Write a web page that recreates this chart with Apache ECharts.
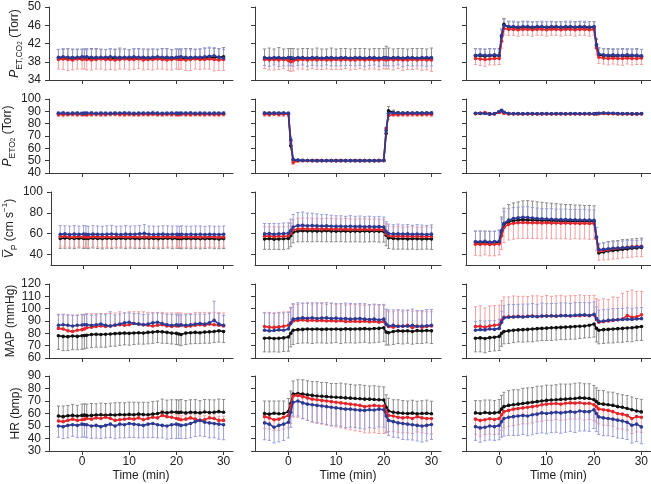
<!DOCTYPE html>
<html><head><meta charset="utf-8">
<script src="https://cdn.jsdelivr.net/npm/echarts@6/dist/echarts.min.js"></script>
<style>html,body{margin:0;padding:0;background:#fff}#c{width:651px;height:484px}</style>
</head><body><div id="c"></div><script>
// time points (min): -5..0, 0.5, 1..20, 20.5, 21..30
const T = [-5,-4,-3,-2,-1,0, 0.5, 1,2,3,4,5,6,7,8,9,10,11,12,13,14,15,16,17,18,19,20, 20.5, 21,22,23,24,25,26,27,28,29,30];
const xTicks = [0,10,20,30];

// ---- Row 1: PET,CO2 (Torr) ----  (e = signed error bar: + up, - down)
const co2_A_k  = [38.8,38.7,38.8,38.9,38.7,38.8, 38.8, 38.7,38.8,38.9,38.8,38.7,38.8,38.8,38.9,38.8,38.7,38.8,38.8,38.9,38.8,38.8,38.7,38.8,38.9,38.8,38.8, 38.8, 38.7,38.8,38.9,38.8,38.8,38.8,38.9,38.9,39.0,39.1];
const co2_A_ke = [1.9,2.0,2.1,1.9,2.0,1.9, 2.0, 1.9,2.1,2.0,1.9,2.0,2.0,1.9,2.1,2.0,1.9,2.0,2.1,1.9,2.0,2.0,1.9,2.1,2.0,1.9,2.0, 2.0, 1.9,2.1,2.0,1.9,2.0,2.2,2.1,2.0,1.9,2.0];
const co2_A_r  = [38.5,38.6,38.5,38.4,38.6,38.5, 38.6, 38.5,38.4,38.5,38.6,38.5,38.5,38.4,38.5,38.6,38.5,38.5,38.6,38.4,38.5,38.5,38.6,38.5,38.4,38.5,38.6, 38.5, 38.5,38.4,38.5,38.6,38.5,38.5,38.6,38.5,38.4,38.5];
const co2_A_re = [-2.1,-2.3,-2.4,-2.2,-2.2,-2.1, -2.2, -2.3,-2.2,-2.1,-2.2,-2.3,-2.2,-2.2,-2.1,-2.2,-2.3,-2.2,-2.1,-2.2,-2.2,-2.3,-2.2,-2.1,-2.2,-2.3,-2.2, -2.2, -2.1,-2.3,-2.4,-2.2,-2.2,-2.1,-2.2,-2.5,-2.3,-2.4];
const co2_A_b  = [39.0,39.1,39.0,38.9,39.0,39.1, 39.0, 39.1,39.0,38.9,39.0,39.0,39.1,39.0,38.9,39.0,39.0,39.1,39.0,39.0,38.9,39.0,39.1,39.0,39.0,38.9,39.0, 39.0, 39.1,39.0,38.9,39.0,39.0,39.1,39.2,39.3,39.0,38.8];
const co2_A_be = [1.7,1.8,1.8,1.7,1.8,1.7, 1.8, 1.8,1.7,1.8,1.8,1.7,1.8,1.8,1.7,1.8,1.7,1.8,1.8,1.7,1.8,1.8,1.7,1.8,1.8,1.7,1.8, 1.7, 1.8,1.8,1.7,1.8,1.8,1.9,2.0,1.8,1.8,1.9];

const co2_B_k  = [38.6,38.7,38.6,38.7,38.6,38.6, 38.7, 38.6,38.6,38.7,38.6,38.6,38.7,38.6,38.6,38.7,38.6,38.6,38.7,38.6,38.6,38.7,38.6,38.6,38.7,38.6,38.6, 38.8, 38.7,38.6,38.6,38.7,38.6,38.6,38.7,38.6,38.6,38.7];
const co2_B_ke = [2.2,2.3,2.2,2.4,2.2,2.3, 2.2, 2.3,2.2,2.2,2.3,2.2,2.3,2.2,2.2,2.3,2.2,2.3,2.2,2.2,2.3,2.2,2.3,2.2,2.2,2.3,2.3, 2.6, 2.3,2.2,2.3,2.2,2.2,2.3,2.2,2.3,2.2,2.3];
const co2_B_r  = [38.5,38.4,38.5,38.4,38.5,38.3, 38.0, 38.2,38.4,38.5,38.4,38.5,38.4,38.5,38.4,38.4,38.5,38.4,38.5,38.4,38.4,38.5,38.4,38.5,38.4,38.4,38.5, 38.4, 38.5,38.4,38.5,38.4,38.4,38.5,38.4,38.5,38.4,38.4];
const co2_B_re = [-2.0,-2.2,-2.3,-2.1,-2.0,-2.2, -2.1, -2.2,-2.0,-2.1,-2.2,-2.0,-2.1,-2.2,-2.0,-2.1,-2.2,-2.1,-2.0,-2.2,-2.1,-2.0,-2.2,-2.1,-2.0,-2.2,-2.1, -2.0, -2.1,-2.2,-2.0,-2.3,-2.1,-2.2,-2.0,-2.4,-2.2,-2.5];
const co2_B_b  = [38.9,38.8,38.9,38.9,38.8,38.9, 38.9, 38.8,38.9,38.9,38.8,38.9,38.9,38.8,38.9,38.9,38.8,38.9,38.9,38.8,38.9,38.9,38.8,38.9,38.9,38.8,38.9, 38.9, 38.8,38.9,38.9,38.8,38.9,38.9,38.8,38.9,38.9,38.9];
const co2_B_be = [-1.7,-1.8,-1.6,-1.9,-1.7,-1.8, -1.7, -1.8,-1.7,-1.6,-1.8,-1.7,-1.8,-1.7,-1.6,-1.8,-1.7,-1.8,-1.7,-1.6,-1.8,-1.7,-1.8,-1.7,-1.6,-1.8,-1.7, -1.8, -1.7,-1.8,-1.6,-1.9,-1.7,-1.8,-1.7,-1.8,-1.9,-1.8];

const co2_C_k  = [39.3,39.3,39.2,39.3,39.3,39.3, 43.5, 46.2,45.5,45.5,45.4,45.5,45.5,45.4,45.5,45.5,45.5,45.4,45.5,45.5,45.4,45.5,45.5,45.5,45.4,45.5,45.5, 41.5, 39.5,39.3,39.3,39.2,39.3,39.3,39.2,39.3,39.3,39.2];
const co2_C_ke = [1.6,1.5,1.6,1.6,1.5,1.6, 1.5, 1.3,1.3,1.2,1.3,1.3,1.2,1.3,1.3,1.2,1.3,1.3,1.2,1.3,1.3,1.2,1.3,1.3,1.2,1.3,1.3, 1.4, 1.5,1.5,1.6,1.5,1.5,1.6,1.5,1.5,1.6,1.5];
const co2_C_r  = [38.7,38.6,38.5,38.6,38.7,38.7, 42.5, 45.3,45.1,45.1,45.0,45.1,45.1,45.0,45.1,45.1,45.0,45.1,45.1,45.0,45.1,45.1,45.0,45.1,45.1,45.0,45.1, 41.0, 39.0,38.8,38.7,38.8,38.7,38.7,38.8,38.7,38.7,38.8];
const co2_C_re = [-1.3,-1.4,-1.5,-1.3,-1.4,-1.3, -1.5, -1.4,-1.3,-1.3,-1.4,-1.3,-1.3,-1.4,-1.3,-1.3,-1.4,-1.3,-1.3,-1.4,-1.3,-1.3,-1.4,-1.3,-1.3,-1.4,-1.3, -1.5, -1.4,-1.3,-1.4,-1.3,-1.4,-1.5,-1.3,-1.4,-1.3,-1.4];
const co2_C_b  = [39.4,39.5,39.4,39.4,39.5,39.4, 43.8, 46.0,45.7,45.7,45.6,45.7,45.7,45.6,45.7,45.7,45.6,45.7,45.7,45.6,45.7,45.7,45.6,45.7,45.7,45.6,45.7, 41.8, 39.7,39.5,39.4,39.5,39.4,39.4,39.5,39.4,39.4,39.3];
const co2_C_be = [1.4,1.4,1.3,1.4,1.4,1.3, 1.4, 1.2,1.2,1.2,1.1,1.2,1.2,1.2,1.1,1.2,1.2,1.2,1.1,1.2,1.2,1.2,1.1,1.2,1.2,1.2,1.1, 1.3, 1.4,1.4,1.3,1.4,1.4,1.3,1.4,1.4,1.3,1.4];

// ---- Row 2: PET,O2 (Torr) ----
const o2_A_k  = [88.0,88.1,87.9,88.0,88.2,88.0, 87.9, 88.1,88.0,88.0,88.1,87.9,88.0,88.2,88.0,88.1,88.0,87.9,88.0,88.1,88.0,88.2,88.0,88.1,88.0,87.9,88.0, 88.1, 88.0,88.0,88.1,87.9,88.0,88.1,88.0,88.0,88.1,88.0];
const o2_A_ke = [1.0,1.1,0.9,1.0,1.2,1.0, 1.0, 1.1,1.0,0.9,1.0,1.1,1.0,1.0,0.9,1.1,1.0,1.0,1.1,0.9,1.0,1.1,1.0,1.0,0.9,1.0,1.1, 1.0, 1.0,0.9,1.1,1.0,1.0,1.1,0.9,1.0,1.0,1.1];
const o2_A_r  = [87.4,87.2,87.5,87.6,87.4,87.5, 87.6, 87.3,87.5,87.6,87.4,87.5,87.6,87.7,87.5,87.4,87.6,87.5,87.4,87.6,87.5,87.7,87.5,87.4,87.6,87.5,87.4, 87.5, 87.6,87.5,87.4,87.6,87.5,87.4,87.6,87.5,87.4,87.6];
const o2_A_re = [-1.6,-1.8,-1.5,-1.4,-1.6,-1.5, -1.4, -1.6,-1.5,-1.4,-1.6,-1.5,-1.4,-1.3,-1.5,-1.6,-1.4,-1.5,-1.6,-1.4,-1.5,-1.3,-1.5,-1.6,-1.4,-1.5,-1.6, -1.5, -1.4,-1.5,-1.6,-1.4,-1.5,-1.6,-1.4,-1.5,-1.6,-1.4];
const o2_A_b  = [88.4,88.6,88.3,88.5,88.4,88.3, 88.5, 88.4,88.6,88.3,88.5,88.4,88.3,88.5,88.4,88.6,88.5,88.3,88.4,88.5,88.4,88.7,88.5,88.3,88.4,88.5,88.4, 88.3, 88.5,88.4,88.6,88.3,88.5,88.4,88.3,88.5,88.4,88.5];
const o2_A_be = [1.3,1.4,1.2,1.3,1.3,1.2, 1.3, 1.4,1.2,1.3,1.3,1.2,1.4,1.3,1.2,1.3,1.4,1.3,1.2,1.3,1.3,1.5,1.3,1.2,1.3,1.4,1.3, 1.2, 1.3,1.4,1.2,1.3,1.3,1.2,1.4,1.3,1.2,1.3];

const o2_B_k  = [88.2,88.4,88.1,88.3,88.2,88.0, 62.0, 50.5,50.2,50.1,50.1,50.0,50.0,50.0,50.1,50.0,50.0,50.0,50.0,50.1,50.0,50.0,50.0,50.0,50.0,50.0,50.2, 72.0, 90.5,89.0,88.6,88.5,88.4,88.5,88.4,88.5,88.4,88.5];
const o2_B_ke = [1.0,1.1,1.0,1.2,1.0,1.0, 2.0, 1.0,0.5,0.4,0.4,0.4,0.4,0.4,0.4,0.4,0.4,0.4,0.4,0.4,0.4,0.4,0.4,0.4,0.4,0.4,0.5, 2.0, 3.5,2.0,1.2,1.1,1.0,1.1,1.0,1.1,1.0,1.1];
const o2_B_r  = [87.6,87.4,87.8,87.5,87.6,87.7, 66.0, 48.5,49.8,50.0,49.9,50.0,50.0,50.0,49.9,50.0,50.0,50.0,49.9,50.0,50.0,50.0,50.0,49.9,50.0,50.0,50.0, 76.0, 86.5,87.5,87.3,87.5,87.4,87.6,87.5,87.4,87.6,87.5];
const o2_B_re = [-1.5,-1.6,-1.4,-1.5,-1.6,-1.5, -3.0, -1.5,-0.6,-0.4,-0.4,-0.4,-0.4,-0.4,-0.4,-0.4,-0.4,-0.4,-0.4,-0.4,-0.4,-0.4,-0.4,-0.4,-0.4,-0.4,-0.4, -4.0, -3.0,-1.8,-1.6,-1.5,-1.5,-1.6,-1.5,-1.4,-1.5,-1.6];
const o2_B_b  = [88.6,88.3,88.7,88.5,88.6,88.4, 67.0, 51.0,50.4,50.2,50.1,50.1,50.0,50.1,50.0,50.1,50.0,50.1,50.0,50.0,50.1,50.0,50.1,50.0,50.0,50.1,50.1, 74.5, 88.5,88.8,88.6,88.5,88.7,88.5,88.6,88.5,88.7,88.6];
const o2_B_be = [1.0,1.2,1.0,1.1,1.0,1.1, 2.0, 0.8,0.5,0.4,0.4,0.4,0.4,0.4,0.4,0.4,0.4,0.4,0.4,0.4,0.4,0.4,0.4,0.4,0.4,0.4,0.4, 2.5, 1.5,1.2,1.0,1.1,1.0,1.0,1.1,1.0,1.1,1.0];

const o2_C_k  = [88.3,88.2,88.4,88.0,88.3,89.5, 90.5, 89.0,88.2,88.0,88.1,88.0,88.0,88.1,88.0,88.0,88.1,88.0,88.0,88.1,88.0,88.0,88.1,88.0,88.0,88.1,88.0, 88.0, 88.2,88.4,88.3,88.2,88.1,88.0,88.1,87.9,88.0,88.1];
const o2_C_ke = [0.7,0.6,0.7,0.6,0.7,0.8, 0.9, 0.7,0.5,0.5,0.5,0.5,0.5,0.5,0.5,0.5,0.5,0.5,0.5,0.5,0.5,0.5,0.5,0.5,0.5,0.5,0.5, 0.5, 0.6,0.6,0.7,0.6,0.6,0.7,0.6,0.6,0.7,0.6];
const o2_C_r  = [88.0,88.4,89.0,87.6,87.8,89.0, 90.0, 88.5,87.9,87.8,87.9,87.8,87.9,87.8,87.9,87.8,87.9,87.8,87.9,87.8,87.9,87.8,87.9,87.8,87.9,87.8,87.9, 87.8, 88.0,88.2,88.1,88.0,87.9,87.8,87.9,87.8,87.7,87.8];
const o2_C_re = [-0.7,-0.8,-0.9,-0.7,-0.7,-0.8, -0.9, -0.7,-0.5,-0.5,-0.5,-0.5,-0.5,-0.5,-0.5,-0.5,-0.5,-0.5,-0.5,-0.5,-0.5,-0.5,-0.5,-0.5,-0.5,-0.5,-0.5, -0.5, -0.6,-0.7,-0.6,-0.6,-0.7,-0.6,-0.6,-0.7,-0.6,-0.6];
const o2_C_b  = [88.5,88.4,88.3,87.8,88.0,89.8, 90.8, 89.2,88.3,88.2,88.2,88.1,88.2,88.2,88.1,88.2,88.2,88.1,88.2,88.2,88.1,88.2,88.2,88.1,88.2,88.2,88.1, 88.2, 88.5,88.6,88.5,88.4,88.3,88.2,88.2,88.1,88.0,88.2];
const o2_C_be = [0.6,0.7,0.6,0.6,0.7,0.8, 0.9, 0.7,0.5,0.5,0.5,0.5,0.5,0.5,0.5,0.5,0.5,0.5,0.5,0.5,0.5,0.5,0.5,0.5,0.5,0.5,0.5, 0.5, 0.6,0.7,0.6,0.6,0.7,0.6,0.6,0.7,0.6,0.6];

// ---- Row 3: mean velocity (cm/s) ----
const vp_A_k  = [55.5,55.8,55.6,55.4,55.7,55.5, 55.6, 55.4,55.7,55.5,55.3,55.6,55.4,55.5,55.7,55.4,55.6,55.5,55.3,55.6,55.4,55.5,55.2,55.4,55.6,55.3,55.5, 55.4, 55.2,55.5,55.3,55.4,55.1,55.3,55.5,55.2,55.0,55.3];
const vp_A_ke = [-9.6,-9.8,-9.5,-9.7,-9.4,-9.6, -9.5, -9.7,-9.4,-9.6,-9.8,-9.5,-9.6,-9.3,-9.5,-9.7,-9.4,-9.6,-9.5,-9.8,-9.4,-9.6,-9.7,-9.5,-9.3,-9.6,-9.5, -9.4, -9.6,-9.5,-9.7,-9.4,-9.6,-9.5,-9.3,-9.6,-9.4,-9.5];
const vp_A_r  = [57.2,57.5,57.0,56.8,57.3,57.1, 57.0, 56.9,57.2,57.0,56.8,57.1,56.9,57.0,57.3,56.8,57.0,57.1,56.9,57.0,56.8,57.1,56.9,57.0,57.2,56.9,57.0, 56.8, 56.9,57.1,56.8,57.0,56.7,56.9,57.1,56.8,56.7,56.9];
const vp_A_re = [-9.8,-10.2,-9.9,-9.6,-10.0,-9.8, -9.9, -10.1,-9.8,-9.7,-10.0,-9.9,-9.8,-10.1,-9.9,-9.6,-9.8,-10.0,-9.9,-9.7,-9.8,-10.0,-9.9,-9.8,-10.1,-9.7,-9.9, -9.8, -9.9,-10.0,-9.7,-9.8,-9.6,-9.9,-10.0,-9.7,-9.5,-9.8];
const vp_A_b  = [59.5,59.8,59.3,59.6,59.4,59.7, 59.5, 59.3,59.6,59.4,59.2,59.5,59.7,59.4,59.3,59.6,59.4,59.5,59.8,60.3,59.5,59.3,59.4,59.6,59.3,59.5,59.4, 59.2, 59.5,59.3,59.4,59.2,59.5,59.3,59.4,59.2,59.3,59.4];
const vp_A_be = [8.3,7.8,8.0,8.2,7.9,8.1, 8.0, 7.8,8.2,8.0,7.9,8.1,8.3,7.8,8.0,8.2,7.9,8.1,8.0,8.6,7.9,8.0,7.8,8.1,8.2,7.9,8.0, 7.8, 8.1,8.0,7.9,8.2,8.0,7.8,8.1,8.0,7.9,8.0];

const vp_B_k  = [55.0,55.3,54.8,55.0,55.2,55.5, 58.0, 61.5,62.5,62.8,62.6,62.7,62.5,62.6,62.8,62.5,62.4,62.6,62.5,62.3,62.5,62.4,62.6,62.3,62.5,62.4,62.2, 58.5, 56.0,55.5,55.2,55.4,55.0,55.3,55.1,54.9,55.2,55.0];
const vp_B_ke = [-10.0,-10.3,-9.8,-10.1,-10.2,-10.0, -10.5, -10.2,-10.3,-10.5,-10.2,-10.4,-10.1,-10.3,-10.5,-10.2,-10.0,-10.3,-10.4,-10.1,-10.2,-10.3,-10.5,-10.1,-10.2,-10.4,-10.2, -10.0, -10.1,-10.3,-10.0,-10.2,-9.9,-10.1,-10.3,-9.8,-10.0,-10.1];
const vp_B_r  = [57.5,57.8,57.2,57.6,57.4,58.0, 60.5, 63.5,64.5,64.8,64.6,64.5,64.7,64.4,64.6,64.3,64.5,64.2,64.4,64.1,64.3,64.0,64.2,64.0,63.9,64.1,63.8, 60.0, 58.0,57.6,57.8,57.4,57.6,57.3,57.5,57.2,57.4,57.3];
const vp_B_re = [9.2,8.8,9.5,9.0,9.3,9.1, 9.5, 10.0,10.4,10.2,10.5,10.1,10.3,10.0,10.2,10.4,9.9,10.1,10.3,10.0,9.8,10.2,10.0,9.9,10.1,9.8,10.0, 9.5, 9.2,9.0,9.3,8.9,9.1,9.4,8.8,9.0,9.2,8.9];
const vp_B_b  = [59.8,60.2,59.5,59.9,60.1,60.5, 63.0, 66.5,67.8,68.0,67.6,67.8,67.5,67.3,67.5,67.2,67.0,67.2,66.9,67.1,66.8,67.0,66.7,66.9,66.6,66.8,66.5, 62.0, 60.2,59.8,60.0,59.6,59.8,59.4,59.7,59.5,59.3,59.6];
const vp_B_be = [10.0,9.6,10.3,9.8,10.1,9.9, 11.0, 12.0,12.6,12.8,12.2,11.8,11.5,11.0,10.8,10.5,10.2,10.0,9.8,10.2,9.9,10.0,9.7,9.9,9.6,9.8,9.5, 9.5, 9.0,8.8,9.2,8.9,9.1,8.7,9.0,8.8,8.6,8.9];

const vp_C_k  = [51.5,51.3,51.6,51.2,51.4,51.8, 62.0, 69.0,71.5,72.5,73.0,73.5,73.2,73.0,72.8,72.6,72.5,72.4,72.3,72.2,72.0,72.1,71.9,72.0,71.8,71.9,71.7, 56.0, 41.5,42.5,43.5,44.0,44.5,45.0,45.5,46.0,46.3,46.8];
const vp_C_ke = [11.0,11.3,10.8,11.2,11.0,11.5, 14.0, 15.5,16.5,17.0,17.5,18.0,18.5,18.2,17.8,17.5,17.0,16.8,16.5,16.2,16.0,15.8,15.6,15.5,15.3,15.2,15.0, 10.0, 8.5,8.8,9.0,9.2,9.0,9.3,9.1,9.0,9.2,9.0];
const vp_C_r  = [50.0,49.8,50.2,49.6,50.0,50.3, 58.0, 66.0,69.0,70.0,70.5,70.8,70.6,70.4,70.5,70.3,70.4,70.2,70.3,70.1,70.2,70.0,70.1,69.9,70.0,69.8,69.9, 56.0, 43.5,44.0,44.5,45.5,46.0,46.5,47.0,47.5,47.8,48.0];
const vp_C_re = [-10.7,-11.0,-10.5,-10.8,-11.2,-10.6, -13.0, -14.5,-15.0,-15.2,-15.0,-15.3,-15.1,-14.9,-15.0,-15.2,-14.8,-15.0,-15.1,-14.9,-15.0,-15.2,-14.8,-15.0,-14.9,-15.1,-15.0, -12.0, -9.0,-9.2,-9.5,-9.8,-10.0,-9.7,-9.9,-10.0,-9.8,-10.0];
const vp_C_b  = [52.5,52.3,52.7,52.1,52.4,52.8, 63.0, 70.0,73.0,74.5,75.2,75.8,75.5,75.0,74.6,74.3,74.0,73.9,73.7,73.6,73.5,73.4,73.3,73.2,73.2,73.0,72.8, 57.0, 44.8,45.0,45.5,46.0,46.3,46.5,46.8,47.0,47.2,47.5];
const vp_C_be = [10.0,10.3,9.8,10.2,10.0,10.5, 11.0, 11.5,11.0,10.5,10.2,10.0,10.3,10.1,10.0,9.8,10.0,10.2,9.9,10.0,10.1,9.8,10.0,9.9,10.1,9.8,10.0, 9.0, 6.0,6.2,6.5,6.3,6.5,6.4,6.6,6.5,6.4,6.5];

// ---- Row 4: MAP (mmHg) ----
const map_A_k  = [78.0,77.5,77.3,77.8,77.5,78.0, 78.2, 78.5,79.0,79.2,79.0,79.3,79.5,79.8,80.0,80.2,80.0,80.3,80.5,80.2,80.8,81.0,81.5,81.2,80.8,80.2,80.0, 79.5, 79.0,80.2,80.5,80.8,80.5,81.0,81.2,81.5,82.0,81.5];
const map_A_ke = [-11.0,-11.5,-11.2,-11.0,-10.8,-11.0, -10.8, -10.5,-10.6,-10.4,-10.2,-10.5,-10.0,-10.2,-9.8,-9.5,-9.6,-9.4,-9.2,-9.0,-9.3,-9.1,-9.0,-9.2,-9.0,-8.8,-9.0, -8.9, -9.0,-9.2,-9.0,-9.1,-8.8,-9.0,-9.2,-9.0,-9.1,-9.0];
const map_A_r  = [84.0,83.5,82.0,81.5,82.5,83.0, 83.5, 84.5,85.0,85.5,86.0,85.5,86.0,86.5,87.0,86.5,87.0,88.0,87.5,87.0,86.5,86.0,86.5,87.0,86.0,85.5,86.0, 86.0, 86.5,85.5,86.0,86.5,87.0,86.5,87.5,87.0,86.5,86.0];
const map_A_re = [11.5,12.0,13.0,13.0,12.5,12.0, 12.0, 11.5,11.0,10.5,10.0,10.5,10.0,10.0,10.5,10.0,10.5,9.5,10.0,10.5,10.5,11.0,10.5,10.0,10.5,11.0,10.5, 10.5, 10.0,10.5,10.0,10.5,10.0,10.5,9.5,10.0,10.5,10.5];
const map_A_b  = [86.5,87.0,86.5,86.0,86.5,86.8, 87.0, 87.0,86.5,87.0,87.5,86.5,86.0,86.8,87.5,88.5,89.0,88.0,87.5,87.0,87.5,88.5,89.0,88.0,87.0,86.5,87.0, 86.5, 87.0,86.5,87.0,87.5,88.0,87.5,88.5,90.5,87.5,86.5];
const map_A_be = [8.5,8.0,8.5,8.8,8.0,8.5, 8.0, 8.5,8.2,8.0,8.3,8.5,11.5,8.0,8.2,8.0,7.5,8.0,8.5,8.2,8.0,7.8,7.5,8.0,8.5,9.0,8.5, 8.2, 8.0,8.5,8.2,8.0,7.8,8.0,7.5,15.5,8.5,8.0];

const map_B_k  = [76.0,76.2,75.8,76.0,76.3,77.0, 80.0, 82.5,83.0,83.2,83.5,83.3,83.5,83.2,83.4,83.3,83.5,83.2,83.6,83.4,83.5,83.6,83.8,83.5,83.9,84.0,84.5, 81.0, 80.5,81.5,82.0,81.8,82.0,81.5,82.2,82.0,82.3,82.0];
const map_B_ke = [-11.0,-11.3,-10.8,-11.2,-11.0,-11.5, -11.0, -11.5,-11.2,-11.0,-11.3,-11.5,-11.2,-11.0,-11.4,-11.2,-11.0,-11.5,-11.3,-11.1,-11.4,-11.2,-11.0,-11.3,-11.5,-11.2,-11.0, -10.5, -10.0,-10.5,-10.2,-10.4,-10.0,-10.3,-10.5,-10.2,-10.0,-10.3];
const map_B_r  = [85.5,85.0,84.8,85.2,85.8,86.5, 88.5, 90.0,90.5,90.8,90.3,90.6,90.2,90.5,90.0,90.3,89.8,90.2,89.5,89.8,89.6,89.5,89.8,89.3,89.6,89.0,89.5, 87.0, 85.5,85.0,86.0,85.5,86.5,84.5,86.0,85.0,85.5,86.0];
const map_B_re = [11.5,12.0,11.8,11.2,11.5,11.0, 12.0, 13.5,13.0,13.5,14.0,13.2,13.8,14.2,13.5,14.0,13.6,14.0,13.5,13.8,14.2,13.5,13.0,13.8,13.5,14.0,13.0, 12.5, 12.0,12.5,13.0,12.0,12.5,13.5,12.0,12.5,12.0,11.5];
const map_B_b  = [82.5,82.0,82.3,82.8,82.5,83.5, 88.0, 91.5,92.0,92.5,92.2,92.6,92.0,92.4,92.5,92.0,92.3,91.8,92.0,91.5,91.8,92.0,91.5,91.2,91.5,90.8,91.5, 87.5, 86.0,86.5,85.5,86.0,85.8,86.5,85.5,86.0,86.2,86.5];
const map_B_be = [14.0,14.5,13.8,14.2,14.0,13.5, 13.0, 12.5,12.8,12.0,12.5,12.2,12.8,12.0,12.3,12.5,12.0,12.2,12.5,12.8,12.0,12.3,12.5,12.0,12.2,12.5,12.0, 12.0, 13.0,12.5,13.5,13.0,12.8,13.2,13.0,12.5,13.0,12.8];

const map_C_k  = [76.0,76.3,75.8,76.5,76.8,77.5, 80.0, 81.5,82.0,82.5,82.8,83.0,83.2,83.5,83.8,84.0,84.2,84.5,84.6,84.8,85.0,85.2,85.5,85.8,86.0,86.5,87.5, 84.0, 82.5,83.0,83.2,83.5,83.8,84.0,84.3,84.5,85.0,85.5];
const map_C_ke = [-11.0,-11.3,-11.5,-11.2,-11.0,-11.4, -10.5, -10.0,-10.2,-10.0,-9.8,-10.1,-10.0,-10.3,-10.0,-9.8,-10.0,-10.2,-10.0,-9.9,-10.1,-10.0,-10.2,-10.0,-9.8,-10.0,-10.5, -11.0, -11.0,-11.2,-11.0,-11.3,-11.0,-11.2,-11.0,-11.3,-11.0,-11.2];
const map_C_r  = [85.5,85.8,85.0,86.0,86.5,87.0, 90.5, 93.0,93.5,93.5,93.8,93.5,93.8,94.0,93.6,93.8,94.2,94.0,93.8,94.5,94.2,94.0,94.5,94.3,94.6,94.2,94.8, 91.0, 89.0,89.5,90.0,90.5,91.0,91.5,94.5,93.0,93.5,95.0];
const map_C_re = [16.0,16.5,15.5,16.2,16.0,15.8, 16.0, 16.5,16.0,16.8,16.2,16.5,16.0,16.4,16.8,16.2,16.5,16.0,16.6,16.3,16.0,16.5,16.2,16.8,16.0,16.4,16.0, 17.0, 18.0,18.5,17.5,19.0,18.0,21.0,19.5,22.0,20.5,19.0];
const map_C_b  = [82.5,83.0,82.8,83.5,83.2,84.0, 89.0, 92.5,93.0,93.2,93.5,93.3,93.6,93.8,93.5,94.0,93.8,94.2,94.0,94.3,94.5,94.2,94.6,94.8,95.0,94.5,95.5, 92.0, 89.7,90.0,90.5,90.8,91.0,91.2,91.5,91.3,91.6,91.9];
const map_C_be = [7.0,7.5,7.2,6.8,7.0,7.5, 9.0, 10.0,10.5,10.2,10.0,10.4,10.1,10.3,10.0,10.5,10.2,10.0,10.3,10.5,10.1,10.0,10.4,10.2,10.0,10.3,10.0, 9.5, 9.0,9.2,9.0,9.3,9.1,9.0,9.2,9.0,9.1,9.0];

// ---- Row 5: HR (bpm) ----
const hr_A_k  = [58.0,57.5,58.2,58.5,58.0,58.5, 58.7, 58.3,58.5,58.8,59.0,58.5,59.0,58.8,59.2,59.0,59.3,59.0,59.5,59.2,59.0,59.5,60.0,61.0,60.5,61.2,61.0, 60.8, 61.0,60.5,61.0,60.8,60.5,61.2,60.8,61.0,61.5,61.0];
const hr_A_ke = [8.0,8.5,8.2,8.8,8.5,9.0, 9.0, 9.2,9.5,9.0,9.3,9.5,9.2,9.8,9.5,9.6,9.8,10.0,9.5,9.8,10.0,10.2,10.0,10.5,10.2,9.8,10.0, 10.0, 10.2,9.8,10.0,10.3,9.8,10.0,10.2,9.9,10.0,10.2];
const hr_A_r  = [54.0,53.5,54.5,55.5,54.5,55.0, 55.3, 56.0,55.5,56.5,56.0,57.0,56.0,54.5,55.0,55.5,56.0,55.5,56.5,55.0,56.0,57.0,56.5,58.5,57.5,57.0,56.0, 55.5, 55.0,55.5,56.5,55.5,54.5,55.0,56.5,56.0,54.5,54.5];
const hr_A_re = [3.5,3.0,3.8,3.2,3.5,3.0, 3.4, 3.5,3.2,3.0,3.6,3.3,3.5,3.8,3.2,3.5,3.0,3.4,3.6,3.2,3.5,3.0,3.3,3.8,3.5,3.2,3.4, 3.5, 3.2,3.6,3.0,3.4,3.5,3.2,3.0,3.5,3.3,3.4];
const hr_A_b  = [50.0,49.5,50.5,51.0,50.5,51.5, 51.2, 51.0,50.0,50.5,49.5,50.5,51.5,50.0,51.5,51.0,52.0,51.5,51.0,50.5,51.5,52.0,51.0,50.5,50.0,51.0,51.5, 51.0, 50.5,51.0,52.0,53.5,54.5,53.0,52.5,52.0,51.5,51.0];
const hr_A_be = [-9.0,-9.5,-10.0,-9.2,-9.8,-10.5, -10.0, -10.5,-9.8,-10.2,-9.5,-10.0,-10.8,-10.2,-11.0,-10.5,-11.2,-10.8,-10.5,-10.0,-10.8,-11.2,-10.5,-10.0,-10.5,-11.0,-11.5, -11.0, -10.5,-11.0,-11.5,-12.0,-12.5,-11.5,-12.0,-11.5,-12.0,-12.0];

const hr_B_k  = [60.0,59.5,60.2,59.8,60.0,61.5, 68.0, 75.5,76.0,75.5,75.0,74.5,74.0,73.8,73.5,73.2,73.0,72.8,72.5,72.3,72.0,71.8,71.5,71.5,71.2,71.0,70.8, 65.0, 62.0,61.0,60.5,60.2,60.0,60.3,59.8,60.0,60.2,59.8];
const hr_B_ke = [10.0,10.5,9.8,10.2,10.0,10.5, 10.0, 10.5,11.0,11.5,11.2,11.0,11.5,11.0,11.2,10.8,11.0,11.5,11.2,11.0,10.8,11.2,11.0,10.5,11.0,10.8,10.5, 10.0, 10.2,10.0,10.5,10.2,10.0,10.3,10.0,10.2,10.5,10.0];
const hr_B_r  = [57.5,56.5,55.0,55.5,57.0,58.5, 66.0, 74.0,74.5,73.5,72.5,71.5,71.0,70.5,70.0,69.5,69.0,68.5,68.0,67.5,67.0,66.5,65.5,66.0,66.5,66.0,66.0, 61.5, 58.5,58.0,57.0,56.5,57.0,56.0,57.5,56.5,56.0,56.0];
const hr_B_re = [-9.5,-9.0,-8.5,-9.0,-9.5,-10.0, -14.0, -17.0,-17.5,-17.8,-18.0,-18.5,-18.8,-19.0,-19.3,-19.5,-19.8,-20.0,-20.3,-20.5,-20.8,-21.0,-21.0,-21.5,-21.8,-22.0,-22.0, -17.0, -13.0,-12.5,-12.0,-12.0,-12.5,-12.0,-12.3,-12.0,-12.0,-12.5];
const hr_B_b  = [52.5,51.5,49.0,50.5,51.5,53.0, 61.0, 69.0,70.0,68.5,67.5,67.0,66.5,66.0,65.5,65.0,64.5,64.0,63.5,63.5,63.0,62.7,62.5,63.0,62.8,63.5,63.0, 58.0, 54.5,53.5,52.5,52.0,51.5,51.0,50.5,50.0,50.5,51.2];
const hr_B_be = [-13.5,-13.0,-12.5,-13.2,-13.0,-12.5, -12.0, -11.0,-12.0,-12.5,-13.0,-13.5,-13.8,-14.0,-14.2,-14.5,-14.0,-14.3,-14.8,-14.5,-14.2,-14.5,-14.8,-14.3,-14.5,-14.2,-14.0, -13.0, -12.0,-12.5,-12.0,-12.8,-12.5,-12.2,-12.5,-12.8,-12.5,-12.0];

const hr_C_k  = [60.5,60.0,60.8,60.3,60.5,61.0, 63.5, 65.5,66.5,67.0,67.5,68.0,68.5,69.0,69.5,70.0,70.5,70.8,71.0,71.3,71.5,71.8,72.0,72.5,72.3,72.0,71.0, 69.5, 68.0,67.5,67.0,66.5,65.5,65.0,64.0,63.0,62.0,61.3];
const hr_C_ke = [9.8,10.2,10.0,10.5,9.8,10.2, 11.0, 11.5,11.8,12.0,11.5,12.2,12.0,11.8,12.3,12.0,12.2,11.8,12.0,12.3,12.0,11.8,12.2,12.0,11.5,11.8,11.5, 11.0, 10.5,10.8,10.2,10.5,10.3,10.0,10.4,10.2,10.0,10.0];
const hr_C_r  = [55.5,54.5,55.0,55.8,55.2,56.0, 59.0, 61.5,62.5,63.5,64.0,64.5,65.0,65.5,66.0,67.0,67.5,67.8,68.0,67.5,68.2,68.5,68.3,68.6,68.0,68.2,67.0, 65.5, 63.7,63.0,62.5,61.5,60.0,59.5,58.5,56.0,57.5,57.0];
const hr_C_re = [-12.0,-12.5,-11.8,-12.2,-12.0,-12.5, -12.5, -13.0,-12.8,-13.2,-13.0,-12.8,-13.3,-13.0,-12.8,-13.2,-13.0,-13.3,-12.8,-13.0,-13.2,-13.0,-12.8,-13.0,-13.3,-13.0,-12.8, -12.5, -12.0,-12.3,-12.0,-11.8,-12.2,-12.0,-11.8,-12.0,-12.2,-12.0];
const hr_C_b  = [49.5,48.5,49.0,50.0,49.5,50.5, 53.5, 56.0,57.0,57.5,58.0,58.5,58.0,59.0,59.5,60.5,60.0,60.5,61.0,60.5,61.0,61.5,61.0,62.0,61.5,61.5,63.0, 60.0, 57.3,56.5,56.0,55.5,54.7,54.0,53.0,50.6,51.5,49.3];
const hr_C_be = [-11.0,-11.5,-10.8,-11.2,-11.0,-11.5, -12.5, -14.0,-14.5,-15.0,-15.5,-15.2,-15.8,-16.0,-15.5,-16.0,-16.2,-15.8,-16.0,-16.3,-16.0,-15.8,-16.2,-16.0,-15.5,-15.8,-15.0, -14.5, -14.0,-14.2,-13.8,-14.0,-14.3,-14.0,-13.8,-14.2,-14.0,-13.5];

// ---- axis definitions ----
const rowNames = [
  '{i|P}{s|ET,CO}{ss|2}{n| (Torr)}',
  '{i|P}{s|ETO}{ss|2}{n| (Torr)}',
  '{i|V\u0305}{s|P}{n| (cm s}{sup|\u22121}{n|)}',
  '{n|MAP (mmHg)}',
  '{n|HR (bmp)}'
];
const rowMin = [34, 40, 30, 60, 30];
const rowMax = [50, 100, 100, 120, 90];
const rowTicks = [[34,38,42,46,50],[40,50,60,70,80,90,100],[40,60,80,100],[60,70,80,90,100,110,120],[30,40,50,60,70,80,90]];

const P = (k,ke,r,re,b,be) => ({k,ke,r,re,b,be});
const panels = [
  [P(co2_A_k,co2_A_ke,co2_A_r,co2_A_re,co2_A_b,co2_A_be), P(co2_B_k,co2_B_ke,co2_B_r,co2_B_re,co2_B_b,co2_B_be), P(co2_C_k,co2_C_ke,co2_C_r,co2_C_re,co2_C_b,co2_C_be)],
  [P(o2_A_k,o2_A_ke,o2_A_r,o2_A_re,o2_A_b,o2_A_be), P(o2_B_k,o2_B_ke,o2_B_r,o2_B_re,o2_B_b,o2_B_be), P(o2_C_k,o2_C_ke,o2_C_r,o2_C_re,o2_C_b,o2_C_be)],
  [P(vp_A_k,vp_A_ke,vp_A_r,vp_A_re,vp_A_b,vp_A_be), P(vp_B_k,vp_B_ke,vp_B_r,vp_B_re,vp_B_b,vp_B_be), P(vp_C_k,vp_C_ke,vp_C_r,vp_C_re,vp_C_b,vp_C_be)],
  [P(map_A_k,map_A_ke,map_A_r,map_A_re,map_A_b,map_A_be), P(map_B_k,map_B_ke,map_B_r,map_B_re,map_B_b,map_B_be), P(map_C_k,map_C_ke,map_C_r,map_C_re,map_C_b,map_C_be)],
  [P(hr_A_k,hr_A_ke,hr_A_r,hr_A_re,hr_A_b,hr_A_be), P(hr_B_k,hr_B_ke,hr_B_r,hr_B_re,hr_B_b,hr_B_be), P(hr_C_k,hr_C_ke,hr_C_r,hr_C_re,hr_C_b,hr_C_be)]
];
panels.forEach((row,ri)=>row.forEach((p,ci)=>Object.keys(p).forEach(key=>{
  if (p[key].length !== T.length) throw new Error('length mismatch row '+ri+' col '+ci+' '+key+': '+p[key].length);
})));

// ---- layout & style ----
const colLeft = [49, 255, 466], colWidth = [184, 186, 185];
const rowTop = [7, 99, 192, 284, 376], rowHeight = [73, 74, 73, 74, 75];
const FONT = 'Liberation Sans, Arial, Helvetica, sans-serif';
const AX = '#3a3a3a', TXT = '#222';
const lineCol = {k:'#111111', r:'#e3262c', b:'#2d3a94'};
const errCol  = {k:'#8c8c8c', r:'#f2a0a2', b:'#9c9fd6'};

const grid = [], xAxis = [], yAxis = [], series = [];
let g = 0;
for (let r = 0; r < 5; r++) {
  for (let c = 0; c < 3; c++) {
    grid.push({left: colLeft[c], top: rowTop[r], width: colWidth[c], height: rowHeight[r], containLabel:false});
    xAxis.push({
      type:'value', gridIndex:g, min:-7, max:32,
      axisLine:{show:true, onZero:false, lineStyle:{color:AX, width:1}},
      axisTick:{show:true, length:4, customValues:xTicks, lineStyle:{color:AX}},
      axisLabel:{show:r===4, customValues:xTicks, margin:5, fontSize:12, color:TXT, fontFamily:FONT},
      splitLine:{show:false},
      name: r===4 ? 'Time (min)' : '', nameLocation:'middle', nameGap:19,
      nameTextStyle:{fontSize:12, color:TXT, fontFamily:FONT}
    });
    const rich = {
      n:{fontSize:12, lineHeight:18, color:TXT, fontFamily:FONT},
      i:{fontSize:12, lineHeight:18, fontStyle:'italic', color:TXT, fontFamily:FONT},
      s:{fontSize:8.5, lineHeight:9, verticalAlign:'bottom', color:TXT, fontFamily:FONT},
      ss:{fontSize:6.5, lineHeight:6, verticalAlign:'bottom', color:TXT, fontFamily:FONT},
      sup:{fontSize:8, lineHeight:9, verticalAlign:'top', color:TXT, fontFamily:FONT}
    };
    yAxis.push({
      type:'value', gridIndex:g, min:rowMin[r], max:rowMax[r],
      axisLine:{show:true, onZero:false, lineStyle:{color:AX, width:1}},
      axisTick:{show:true, length:4, customValues:rowTicks[r], lineStyle:{color:AX}},
      axisLabel:{show:c===0, customValues:rowTicks[r], margin:8, fontSize:12, color:TXT, fontFamily:FONT},
      splitLine:{show:false},
      name: c===0 ? rowNames[r] : '', nameLocation:'middle', nameRotate:90, nameGap:24,
      nameTextStyle:{rich: rich, fontSize:12, color:TXT, fontFamily:FONT}
    });
    const p = panels[r][c];
    ['k','r','b'].forEach(key => {
      const v = p[key], e = p[key+'e'], col = errCol[key];
      series.push({
        type:'custom', xAxisIndex:g, yAxisIndex:g, clip:true, silent:true, z:1,
        data: T.map((t,j)=>[t, v[j], Math.round((v[j]+e[j])*100)/100]),
        encode:{x:0, y:[1,2]},
        renderItem:(params, api) => {
          const a = api.coord([api.value(0), api.value(1)]);
          const b = api.coord([api.value(0), api.value(2)]);
          return {type:'group', children:[
            {type:'line', shape:{x1:a[0], y1:a[1], x2:b[0], y2:b[1]}, style:{stroke:col, lineWidth:1}},
            {type:'line', shape:{x1:b[0]-1.6, y1:b[1], x2:b[0]+1.6, y2:b[1]}, style:{stroke:col, lineWidth:1}}
          ]};
        }
      });
    });
    ['k','r','b'].forEach((key, idx) => {
      const v = p[key];
      series.push({
        type:'line', xAxisIndex:g, yAxisIndex:g, z:3+idx, silent:true,
        data: T.map((t,j)=>[t, v[j]]),
        symbol:'circle', symbolSize:3.6, showSymbol:true,
        lineStyle:{color:lineCol[key], width:1.6},
        itemStyle:{color:lineCol[key]}
      });
    });
    g++;
  }
}

const chart = echarts.init(document.getElementById('c'), null, {renderer:'canvas'});
chart.setOption({animation:false, backgroundColor:'#fff', textStyle:{fontFamily:FONT}, grid, xAxis, yAxis, series});
</script></body></html>
